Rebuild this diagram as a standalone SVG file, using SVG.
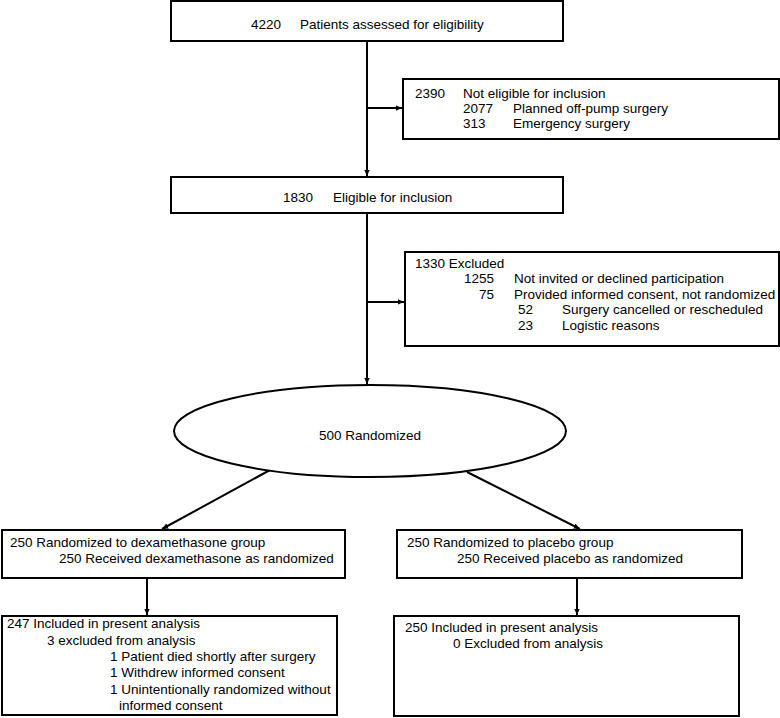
<svg xmlns="http://www.w3.org/2000/svg" width="780" height="718" viewBox="0 0 780 718">
<style>
.box{fill:#fff;stroke:#000;stroke-width:2}
text{font-family:"Liberation Sans",Arial,sans-serif;font-size:13.5px;fill:#000}
.c{fill:none;stroke:#000;stroke-width:2}
</style>
<defs>
<marker id="ah" viewBox="0 0 8 8" refX="8" refY="4" markerWidth="3.2" markerHeight="3.2" orient="auto" markerUnits="strokeWidth">
<path d="M0,0.5 L8,4 L0,7.5 z" fill="#000"/>
</marker>
</defs>
<rect width="780" height="718" fill="#fff"/>
<g id="connectors">
<line class="c" x1="367" y1="41" x2="367" y2="176" marker-end="url(#ah)"/>
<line class="c" x1="367" y1="108" x2="402" y2="108" marker-end="url(#ah)"/>
<line class="c" x1="367" y1="213" x2="367" y2="384" marker-end="url(#ah)"/>
<line class="c" x1="367" y1="302" x2="404" y2="302" marker-end="url(#ah)"/>
<line class="c" x1="270" y1="470" x2="162" y2="529" marker-end="url(#ah)"/>
<line class="c" x1="467" y1="472" x2="580" y2="529" marker-end="url(#ah)"/>
<line class="c" x1="147" y1="578" x2="147" y2="615" marker-end="url(#ah)"/>
<line class="c" x1="577" y1="578" x2="577" y2="615" marker-end="url(#ah)"/>
</g>
<g id="assessed">
<rect class="box" x="171" y="1" width="392" height="40"/>
<text x="251" y="29">4220</text>
<text x="300" y="29">Patients assessed for eligibility</text>
</g>
<g id="not-eligible">
<rect class="box" x="403" y="79" width="376" height="60"/>
<text x="415" y="97.5">2390</text>
<text x="463" y="97.5">Not eligible for inclusion</text>
<text x="463" y="113">2077</text>
<text x="513" y="113">Planned off-pump surgery</text>
<text x="463" y="128">313</text>
<text x="513" y="128">Emergency surgery</text>
</g>
<g id="eligible">
<rect class="box" x="171" y="177" width="392" height="36"/>
<text x="283" y="201.5">1830</text>
<text x="333" y="201.5">Eligible for inclusion</text>
</g>
<g id="excluded">
<rect class="box" x="405" y="252" width="374" height="94"/>
<text x="415" y="268">1330 Excluded</text>
<text x="494" y="283" text-anchor="end">1255</text>
<text x="514" y="283">Not invited or declined participation</text>
<text x="494" y="298.5" text-anchor="end">75</text>
<text x="514" y="298.5">Provided informed consent, not randomized</text>
<text x="518" y="314">52</text>
<text x="562" y="314">Surgery cancelled or rescheduled</text>
<text x="518" y="330">23</text>
<text x="562" y="330">Logistic reasons</text>
</g>
<g id="randomized">
<ellipse class="box" cx="370" cy="431" rx="196" ry="46"/>
<text x="370" y="440" text-anchor="middle">500 Randomized</text>
</g>
<g id="dexamethasone">
<rect class="box" x="2" y="530" width="343" height="48"/>
<text x="10" y="547">250 Randomized to dexamethasone group</text>
<text x="59" y="563">250 Received dexamethasone as randomized</text>
</g>
<g id="placebo">
<rect class="box" x="397" y="530" width="345" height="48"/>
<text x="407" y="547">250 Randomized to placebo group</text>
<text x="457" y="563">250 Received placebo as randomized</text>
</g>
<g id="dex-analysis">
<rect class="box" x="2" y="616" width="335" height="99"/>
<text x="7" y="628">247 Included in present analysis</text>
<text x="47" y="645">3 excluded from analysis</text>
<text x="110" y="661">1 Patient died shortly after surgery</text>
<text x="110" y="677">1 Withdrew informed consent</text>
<text x="110" y="694">1 Unintentionally randomized without</text>
<text x="119" y="710">informed consent</text>
</g>
<g id="placebo-analysis">
<rect class="box" x="394" y="616" width="345" height="100"/>
<text x="405" y="632">250 Included in present analysis</text>
<text x="453" y="648">0 Excluded from analysis</text>
</g>
</svg>
